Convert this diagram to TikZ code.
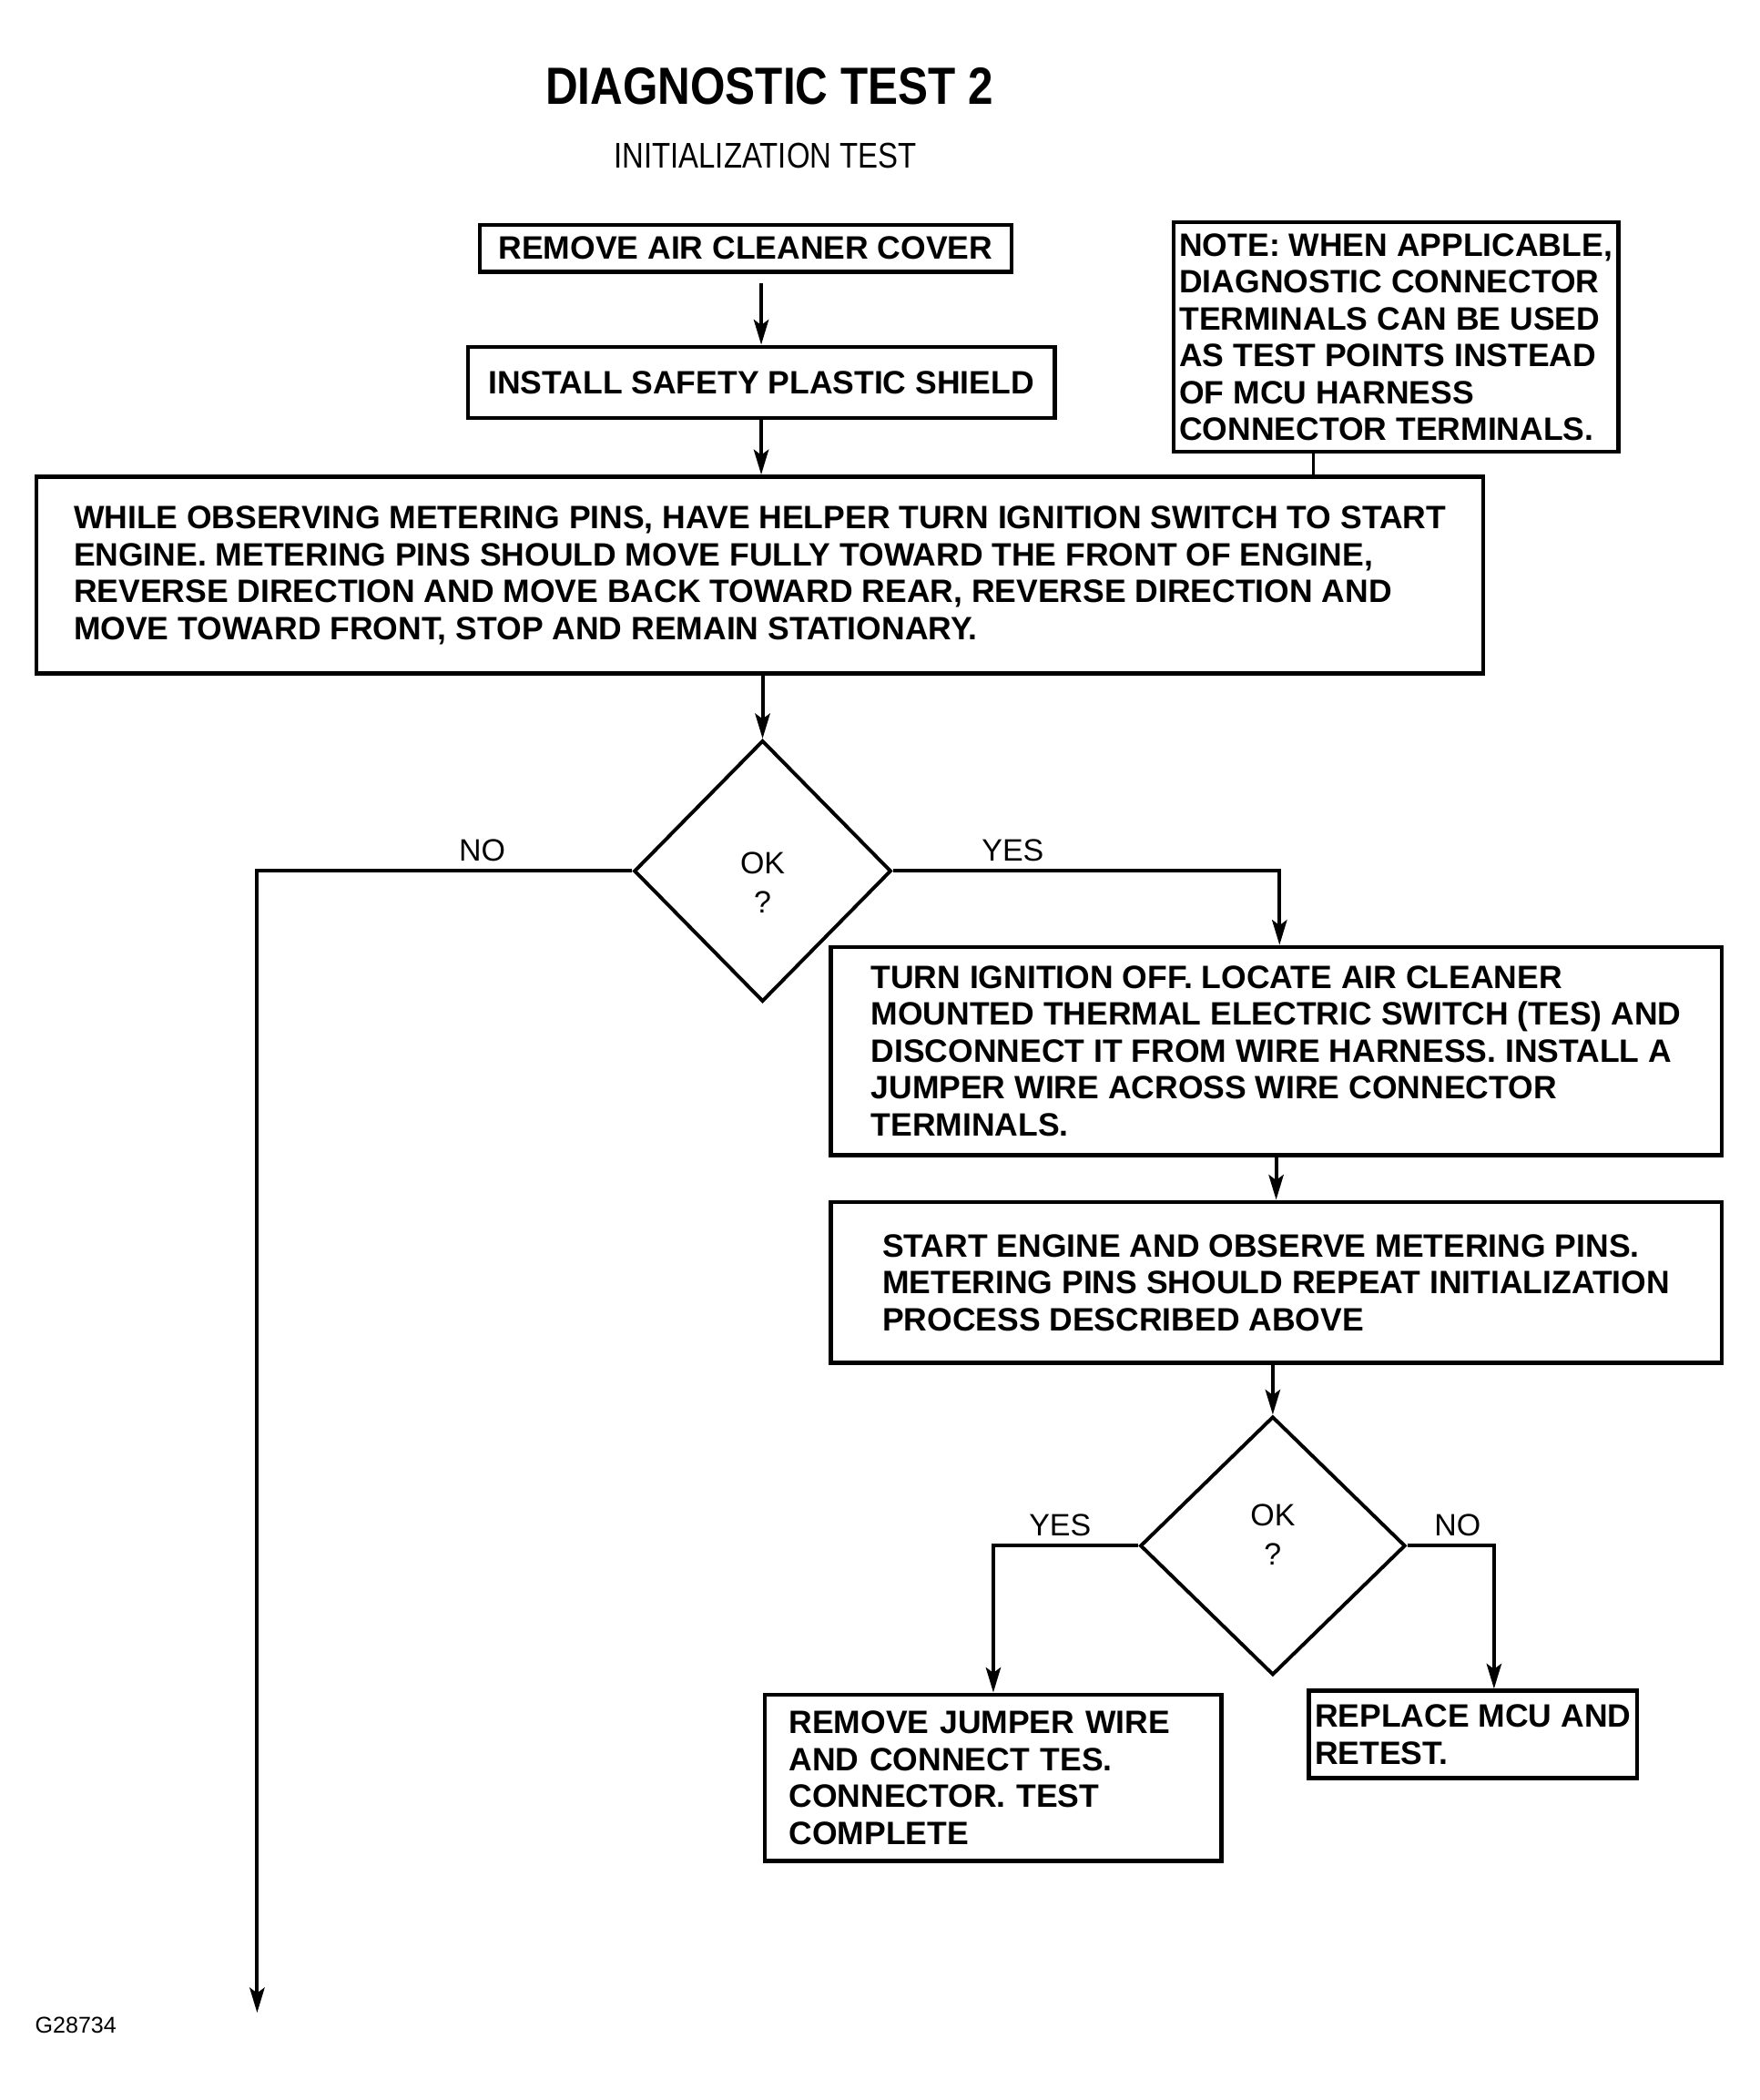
\documentclass[tikz,border=0pt]{standalone}
\usepackage{fontspec}
\usepackage{tikz}
\usetikzlibrary{arrows.meta,shapes.geometric}
\setmainfont{Liberation Sans}
\newfontfamily\titlefont[FakeStretch=0.86]{Liberation Sans}
\newfontfamily\subfont[FakeStretch=0.84]{Liberation Sans}

\begin{document}
\begin{tikzpicture}[
  stepbox/.style={draw, line width=1.8pt, align=left, inner sep=0pt,
    font=\bfseries\fontsize{13.6pt}{15.5pt}\selectfont},
  decision/.style={draw, diamond, line width=1.5pt, inner sep=0pt,
    font=\fontsize{13pt}{16.4pt}\selectfont},
  flow/.style={line width=1.5pt, -{Stealth[length=3.7mm,width=2.2mm,inset=0.8mm]}},
  answer/.style={above, font=\fontsize{13pt}{15pt}\selectfont}
]

\useasboundingbox (0,0) rectangle (26,-31.03) ;

\node (title) at (11.37,-1.27) {\titlefont\bfseries\fontsize{22pt}{26pt}\selectfont DIAGNOSTIC TEST 2} ;
\node (subtitle) at (11.31,-2.30) {\subfont\fontsize{15pt}{18pt}\selectfont INITIALIZATION TEST} ;

\node [stepbox, minimum width=7.86cm, minimum height=0.69cm] (cover) at (11.02,-3.67) {REMOVE AIR CLEANER COVER} ;
\node [stepbox, minimum width=8.67cm, minimum height=1.05cm] (shield) at (11.25,-5.65) {INSTALL SAFETY PLASTIC SHIELD} ;
\node [stepbox, minimum width=6.57cm, minimum height=3.39cm] (note) at (20.63,-4.98)
  {NOTE: WHEN APPLICABLE,\\ DIAGNOSTIC CONNECTOR\\ TERMINALS CAN BE USED\\ AS TEST POINTS INSTEAD\\ OF MCU HARNESS\\ CONNECTOR TERMINALS.} ;
\node [stepbox, minimum width=21.38cm, minimum height=2.91cm] (observe) at (11.23,-8.50)
  {WHILE OBSERVING METERING PINS, HAVE HELPER TURN IGNITION SWITCH TO START\\ ENGINE. METERING PINS SHOULD MOVE FULLY TOWARD THE FRONT OF ENGINE,\\ REVERSE DIRECTION AND MOVE BACK TOWARD REAR, REVERSE DIRECTION AND\\ MOVE TOWARD FRONT, STOP AND REMAIN STATIONARY.} ;

\node [decision, minimum width=3.80cm, minimum height=3.86cm] (ok1) at (11.27,-12.87)
  {\raisebox{-0.22cm}[\height][\depth]{\begin{tabular}{@{}c@{}}OK\\?\end{tabular}}} ;

\node [stepbox, minimum width=13.17cm, minimum height=3.07cm] (tes) at (18.86,-15.53)
  {TURN IGNITION OFF. LOCATE AIR CLEANER\\ MOUNTED THERMAL ELECTRIC SWITCH (TES) AND\\ DISCONNECT IT FROM WIRE HARNESS. INSTALL A\\ JUMPER WIRE ACROSS WIRE CONNECTOR\\ TERMINALS.} ;
\node [stepbox, minimum width=13.17cm, minimum height=2.38cm] (restart) at (18.86,-18.95)
  {START ENGINE AND OBSERVE METERING PINS.\\ METERING PINS SHOULD REPEAT INITIALIZATION\\ PROCESS DESCRIBED ABOVE} ;

\node [decision, minimum width=3.92cm, minimum height=3.82cm] (ok2) at (18.81,-22.84)
  {\raisebox{0.12cm}[\height][\depth]{\begin{tabular}{@{}c@{}}OK\\?\end{tabular}}} ;

\node [stepbox, text width=6.04cm, inner xsep=0.355cm, minimum height=2.46cm] (jumper) at (14.68,-26.27)
  {REMOVE JUMPER WIRE\\ AND CONNECT TES.\\ CONNECTOR. TEST\\ COMPLETE} ;
\node [stepbox, minimum width=4.85cm, minimum height=1.29cm] (replace) at (21.77,-25.63)
  {REPLACE MCU AND\\ RETEST.} ;

\node [font=\fontsize{9.6pt}{11pt}\selectfont] (code) at (1.12,-29.92) {G28734} ;

\coordinate (noend) at (3.80,-29.74) ;

\draw [flow, shorten <=0.14cm] (cover.south -| shield.north) -- (shield.north) ;
\draw [flow] (shield.south) -- (shield.south |- observe.north) ;
\draw [line width=1.5pt] ([xshift=-1.22cm]note.south) -- ([xshift=-1.22cm]note.south |- observe.north) ;
\draw [flow] (observe.south -| ok1.north) -- (ok1.north) ;

\draw [flow] (ok1.west) -| node [answer, pos=0.2] {NO} (noend) ;
\draw [flow] (ok1.east) -| node [answer, pos=0.155] {YES} ([xshift=0.05cm]tes.north) ;
\draw [flow] (tes.south) -- (restart.north) ;
\draw [flow] (restart.south -| ok2.north) -- (ok2.north) ;

\draw [flow] (ok2.west) -| node [answer, pos=0.27] {YES} (jumper.north) ;
\draw [flow] (ok2.east) -| node [answer, pos=0.29] {NO} ([xshift=0.31cm]replace.north) ;

\end{tikzpicture}
\end{document}
